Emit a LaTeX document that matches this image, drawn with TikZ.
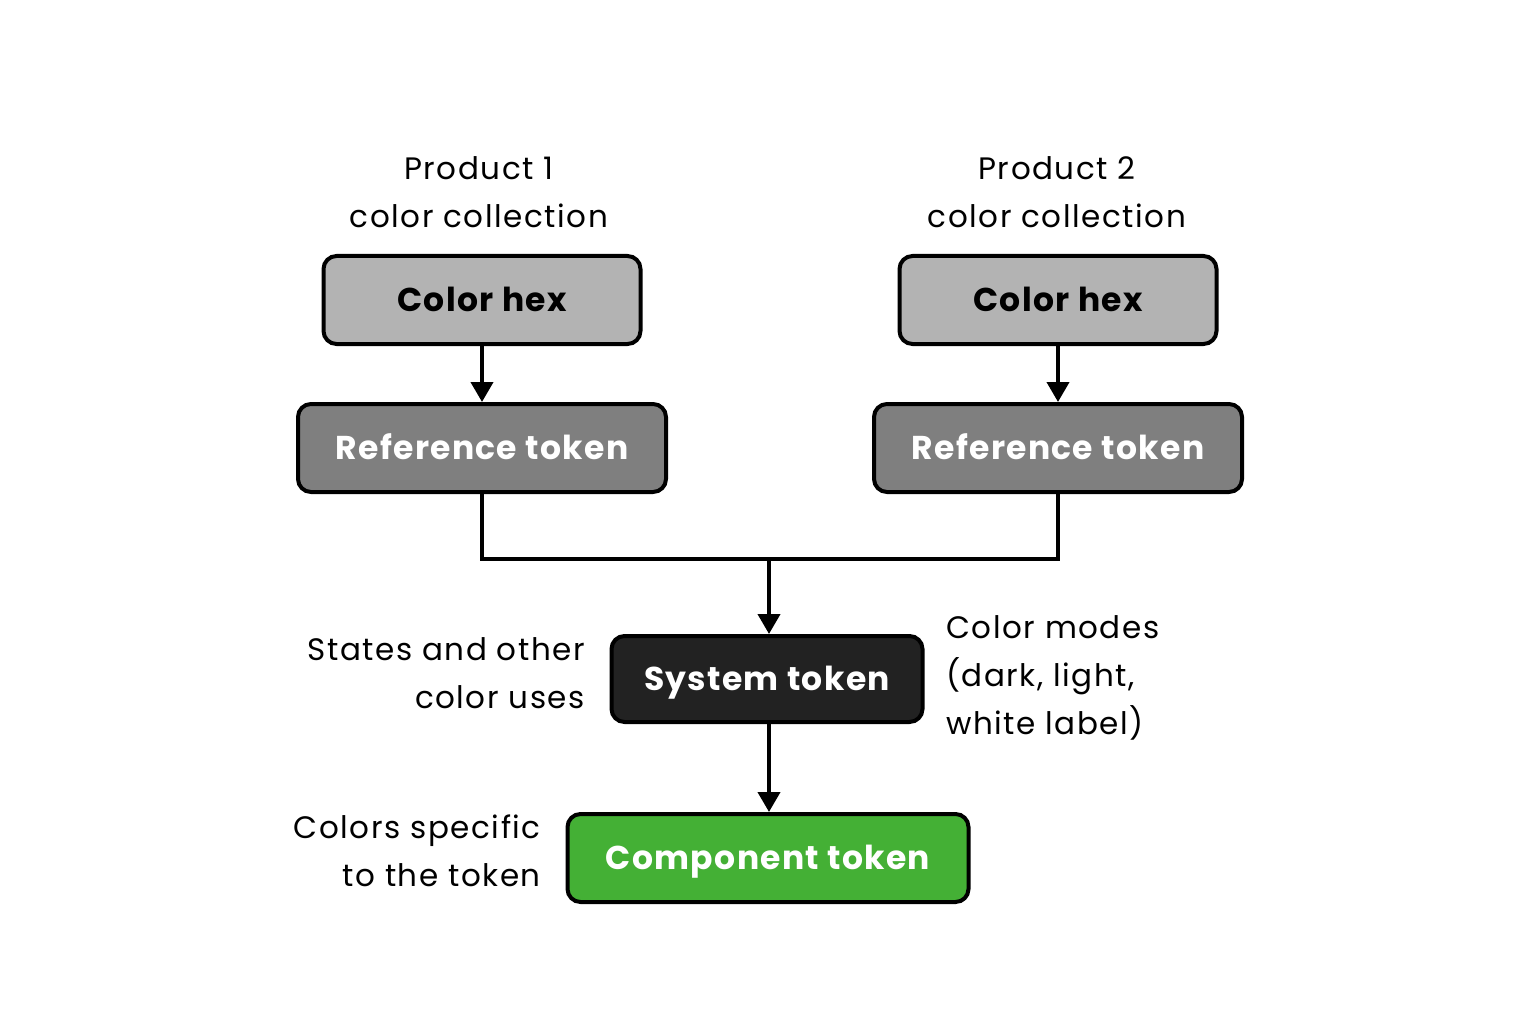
\documentclass[tikz,border=0pt]{standalone}
\usepackage{fontspec}
\setmainfont{Poppins}
\newfontfamily\lblfont[LetterSpace=5]{Poppins}
\newfontfamily\tokfont[LetterSpace=4]{Poppins}
\usetikzlibrary{arrows.meta,positioning}
\definecolor{hexgray}{HTML}{B3B3B3}
\definecolor{refgray}{HTML}{7F7F7F}
\definecolor{sysblack}{HTML}{222222}
\definecolor{compgreen}{HTML}{44B035}
\tikzset{
    tok/.style={draw,line width=4pt,rounded corners=13pt,font=\tokfont\fontsize{33}{40}\selectfont\bfseries,inner sep=0pt,text height=23pt,text depth=0pt},
    lbl/.style={font=\lblfont\fontsize{31}{48}\selectfont,inner sep=0pt},
    arr/.style={line width=4pt,-{Triangle[width=22pt,length=20pt]}}
}
\begin{document}
\begin{tikzpicture}[x=1pt,y=-1pt]
        \useasboundingbox[fill=white] (0,0) rectangle (1536,1024);
        %% Blocks
        \node[tok,fill=hexgray,minimum width=317pt,minimum height=88pt] (hexA) at (482,300) {Color hex};
        \node[tok,fill=hexgray,minimum width=317pt,minimum height=88pt] (hexB) at (1058,300) {Color hex};
        \node[tok,fill=refgray,text=white,minimum width=368pt,minimum height=88pt] (refA) at (482,448) {Reference token};
        \node[tok,fill=refgray,text=white,minimum width=368pt,minimum height=88pt] (refB) at (1058,448) {Reference token};
        \node[tok,fill=sysblack,text=white,minimum width=311pt,minimum height=86pt] (sys) at (767,679) {System token};
        \node[tok,fill=compgreen,text=white,minimum width=401pt,minimum height=88pt] (comp) at (768,858) {Component token};
        %% labels
        \node[lbl,align=center,anchor=south] (prodA) at (479,228) {Product 1\\color collection};
        \node[lbl,align=center,anchor=south] (prodB) at (1057,228) {Product 2\\color collection};
        \node[lbl,align=right,anchor=east] (states) at (585,673) {States and other\\color uses};
        \node[lbl,align=left,anchor=west] (modes) at (946,678) {Color modes\\(dark, light,\\white label)};
        \node[lbl,align=right,anchor=east] (specific) at (541,851) {Colors specific\\to the token};
        %% arrows
        \draw[arr] (hexA) -- (refA);
        \draw[arr] (hexB) -- (refB);
        \coordinate (join) at (769,559);
        \draw[line width=4pt,line join=miter] (refA.south) |- (join) -| (refB.south);
        \draw[arr] (join) -- (join |- sys.north);
        \draw[arr] (sys.south -| join) -- (join |- comp.north);
    \end{tikzpicture}
\end{document}
